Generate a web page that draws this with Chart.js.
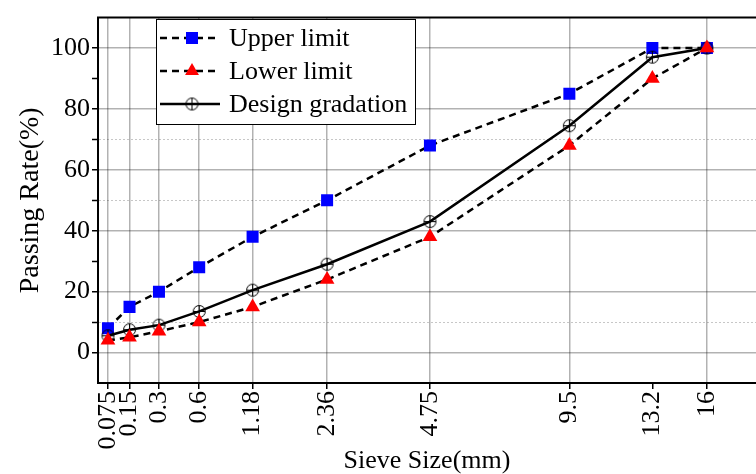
<!DOCTYPE html>
<html>
<head>
<meta charset="utf-8">
<script src="https://cdn.jsdelivr.net/npm/chart.js@4.4.1/dist/chart.umd.min.js"></script>
<style>
    html, body { margin: 0; padding: 0; background: #fff; }
    #wrap { width: 756px; height: 474px; }
</style>
</head>
<body>
<div id="wrap"><canvas id="gradation"></canvas></div>
<script>
    // Data
    var sieveSizes = [0.075, 0.15, 0.3, 0.6, 1.18, 2.36, 4.75, 9.5, 13.2, 16];
    var sieveLabels = ["0.075", "0.15", "0.3", "0.6", "1.18", "2.36", "4.75", "9.5", "13.2", "16"];
    var upperLimit = [8, 15, 20, 28, 38, 50, 68, 85, 100, 100];
    var lowerLimit = [4, 5, 7, 10, 15, 24, 38, 68, 90, 100];
    var designGradation = [5.5, 7.5, 9, 13.5, 20.5, 29, 43, 74.5, 97, 100];
    var yLabels = [0, 20, 40, 60, 80, 100];

    // x axis is the usual 0.45 power gradation scale
    var POWER = 0.45;
    function px(size) { return Math.pow(size, POWER); }
    function toPoints(values) {
        return values.map(function (v, i) { return { x: px(sieveSizes[i]), y: v }; });
    }
    function isMajor(v) {
        return yLabels.some(function (l) { return Math.abs(l - v) < 1e-6; });
    }
    function isDotted(v) {
        return [10, 50, 70].some(function (l) { return Math.abs(l - v) < 1e-6; });
    }

    var serif = "'Liberation Serif', 'Times New Roman', serif";

    // circle with a cross, for the design curve
    var crossCircle = document.createElement('canvas');
    crossCircle.width = 15;
    crossCircle.height = 15;
    (function () {
        var c = crossCircle.getContext('2d');
        c.strokeStyle = '#000';
        c.lineWidth = 1;
        c.beginPath();
        c.arc(7.5, 7.5, 6, 0, Math.PI * 2);
        c.moveTo(1.5, 7.5); c.lineTo(13.5, 7.5);
        c.moveTo(7.5, 1.5); c.lineTo(7.5, 13.5);
        c.stroke();
    })();

    // Frame top line + legend box
    var framePlugin = {
        id: 'frame',
        afterDraw: function (chart) {
            var ctx = chart.ctx, a = chart.chartArea;
            ctx.save();
            ctx.strokeStyle = '#000';
            ctx.lineWidth = 2;
            ctx.beginPath();
            ctx.moveTo(a.left - 1, a.top);
            ctx.lineTo(a.right, a.top);
            ctx.stroke();

            // legend
            var bx = 156, by = 19, bw = 259, bh = 105;
            ctx.fillStyle = '#fff';
            ctx.fillRect(bx, by, bw, bh);
            ctx.strokeStyle = '#000';
            ctx.lineWidth = 1;
            ctx.strokeRect(bx + 0.5, by + 0.5, bw, bh);

            var rowY = [38, 71, 104];
            chart.data.datasets.forEach(function (ds, i) {
                var y = rowY[i];
                ctx.strokeStyle = ds.borderColor;
                ctx.lineWidth = ds.borderWidth;
                ctx.setLineDash(ds.borderDash || []);
                ctx.beginPath();
                ctx.moveTo(160, y);
                ctx.lineTo(220, y);
                ctx.stroke();
                ctx.setLineDash([]);
                var mx = 192;
                if (ds.pointStyle === 'rect') {
                    ctx.fillStyle = ds.pointBackgroundColor;
                    ctx.fillRect(mx - 6, y - 6, 12, 12);
                } else if (ds.pointStyle === 'triangle') {
                    var r = 8;
                    ctx.fillStyle = ds.pointBackgroundColor;
                    ctx.beginPath();
                    ctx.moveTo(mx, y - r);
                    ctx.lineTo(mx + r * 0.866, y + r / 2);
                    ctx.lineTo(mx - r * 0.866, y + r / 2);
                    ctx.closePath();
                    ctx.fill();
                } else {
                    ctx.drawImage(crossCircle, mx - 7.5, y - 7.5);
                }
                ctx.fillStyle = '#000';
                ctx.font = '26px ' + serif;
                ctx.textBaseline = 'middle';
                ctx.textAlign = 'left';
                ctx.fillText(ds.label, 229, y + 1);
            });
            ctx.restore();
        }
    };

    var ctx = document.getElementById('gradation').getContext('2d');
    var gradationChart = new Chart(ctx, {
        type: 'line',
        data: {
            datasets: [{
                    label: 'Upper limit',
                    data: toPoints(upperLimit),
                    borderColor: '#000',
                    borderWidth: 2.5,
                    borderDash: [7, 5],
                    pointStyle: 'rect',
                    pointRadius: 8.5,
                    pointBackgroundColor: '#0000ff',
                    pointBorderColor: '#0000ff',
                    pointBorderWidth: 0,
                    order: 3
                },
                {
                    label: 'Lower limit',
                    data: toPoints(lowerLimit),
                    borderColor: '#000',
                    borderWidth: 2.5,
                    borderDash: [7, 5],
                    pointStyle: 'triangle',
                    pointRadius: 8.5,
                    pointBackgroundColor: '#ff0000',
                    pointBorderColor: '#ff0000',
                    pointBorderWidth: 0,
                    order: 1
                },
                {
                    label: 'Design gradation',
                    data: toPoints(designGradation),
                    borderColor: '#000',
                    borderWidth: 2.5,
                    pointStyle: crossCircle,
                    order: 2
                }
            ]
        },
        options: {
            responsive: true,
            maintainAspectRatio: false,
            animation: false,
            layout: {
                autoPadding: false,
                padding: { top: 16, right: 0, left: 0, bottom: 0 }
            },
            plugins: {
                legend: { display: false },
                tooltip: { enabled: false }
            },
            scales: {
                x: {
                    type: 'linear',
                    min: 0.259,
                    max: 3.742,
                    afterBuildTicks: function (scale) {
                        scale.ticks = sieveSizes.map(function (s) { return { value: px(s) }; });
                    },
                    afterFit: function (scale) {
                        scale.height = 91;
                        scale.paddingLeft = 0;
                        scale.paddingRight = 0;
                    },
                    ticks: {
                        autoSkip: false,
                        minRotation: 90,
                        maxRotation: 90,
                        padding: 2,
                        color: '#000',
                        font: { family: serif, size: 26 },
                        callback: function (value, index) { return sieveLabels[index]; }
                    },
                    grid: {
                        color: function (c) {
                            return (c.tick && c.index === 8) ? 'rgba(0,0,0,0)' : 'rgba(0,0,0,0.3)';
                        },
                        lineWidth: 1.5,
                        tickColor: '#000',
                        tickLength: 6,
                        tickWidth: 1.5
                    },
                    border: { color: '#000', width: 2 },
                    title: {
                        display: true,
                        text: 'Sieve Size(mm)',
                        color: '#000',
                        font: { family: serif, size: 26, lineHeight: 1 },
                        padding: { top: 0, bottom: 0 }
                    }
                },
                y: {
                    min: -10,
                    max: 110,
                    afterFit: function (scale) { scale.width = 98; },
                    ticks: {
                        stepSize: 10,
                        autoSkip: false,
                        padding: 2,
                        color: '#000',
                        font: { family: serif, size: 26 },
                        callback: function (value) {
                            return isMajor(value) ? String(Math.round(value)) : '';
                        }
                    },
                    grid: {
                        color: function (c) {
                            var v = c.tick ? c.tick.value : null;
                            if (v !== null && isMajor(v)) return 'rgba(0,0,0,0.3)';
                            if (v !== null && isDotted(v)) return 'rgba(0,0,0,0.22)';
                            return 'rgba(0,0,0,0)';
                        },
                        lineWidth: function (c) {
                            var v = c.tick ? c.tick.value : null;
                            return (v !== null && isMajor(v)) ? 1.5 : 1;
                        },
                        tickColor: function (c) {
                            var v = c.tick ? c.tick.value : null;
                            return (v !== null && v > -1 && v < 101) ? '#000' : 'rgba(0,0,0,0)';
                        },
                        tickLength: 6,
                        tickWidth: 1.5
                    },
                    border: {
                        color: '#000',
                        width: 2,
                        dash: function (c) {
                            var v = c.tick ? c.tick.value : null;
                            return (v !== null && isMajor(v)) ? [] : [2, 2];
                        }
                    },
                    title: {
                        display: true,
                        text: 'Passing Rate(%)',
                        color: '#000',
                        font: { family: serif, size: 28, lineHeight: 1 },
                        padding: { top: 17, bottom: 0 }
                    }
                }
            }
        },
        plugins: [framePlugin]
    });
</script>
</body>
</html>
